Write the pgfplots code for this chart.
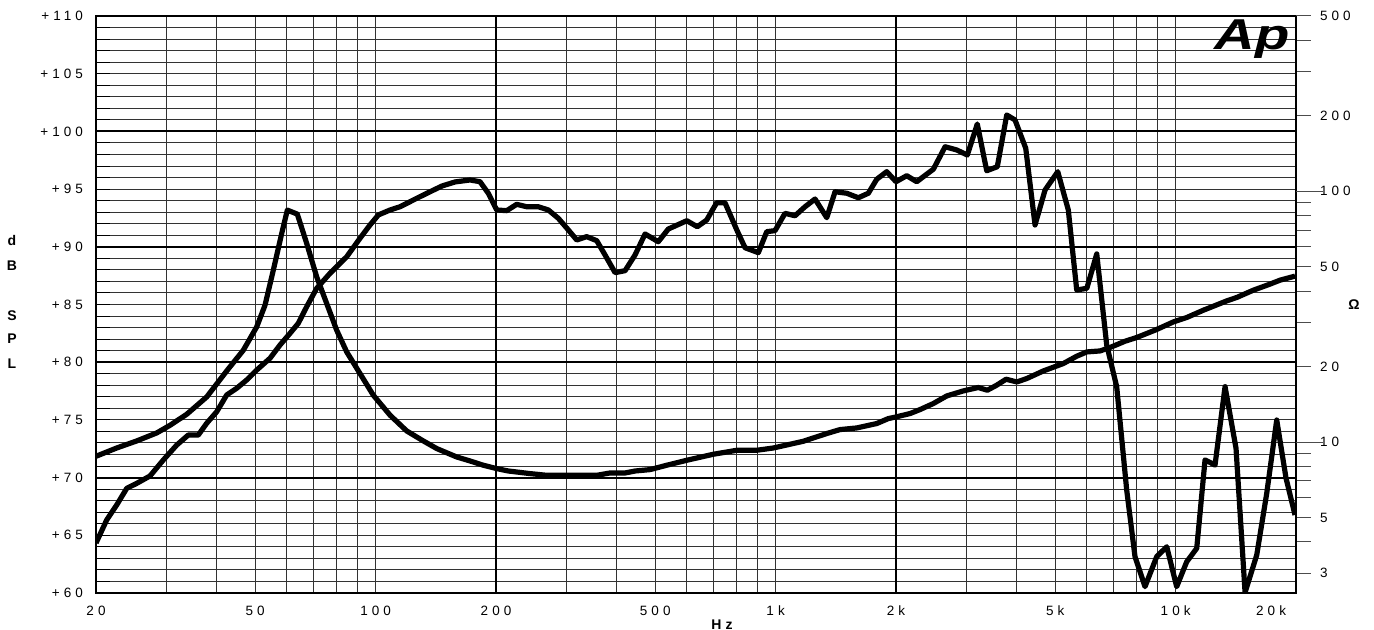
\documentclass[border=0pt]{standalone}
\usepackage{fontspec}
\setmainfont{Liberation Sans}[LetterSpace=30]
\usepackage{pgfplots}
\pgfplotsset{compat=1.18}

\pgfplotstableread{
f dB
20 64.33
21.27 66.33
22.53 67.63
23.87 69.07
25.28 69.50
27.29 70.14
29.47 71.53
31.83 72.82
34.02 73.69
36.04 73.69
37.83 74.71
40.07 75.71
42.44 77.16
44.95 77.74
47.62 78.46
50.44 79.32
54.45 80.34
57.68 81.49
61.10 82.50
64.08 83.37
67.26 84.81
71.24 86.40
76.92 87.70
84.68 89.14
91.42 90.74
96.83 91.89
101.6 92.76
108.7 93.19
115.1 93.47
126.7 94.20
136.8 94.77
146.6 95.27
158.0 95.62
172.2 95.79
182.4 95.64
191.3 94.64
200.8 93.19
212.7 93.13
225.3 93.68
238.7 93.47
255.2 93.47
270.3 93.19
286.3 92.47
303.3 91.46
318.3 90.59
337.1 90.88
357.1 90.53
374.7 89.29
396.9 87.76
420.4 87.93
445.2 89.29
471.6 91.11
509.0 90.44
539.2 91.54
599.8 92.26
637.2 91.74
672.6 92.32
712.4 93.82
747.3 93.82
799.8 91.46
838.6 89.92
905.4 89.49
950.2 91.31
996.6 91.40
1055.6 92.90
1118.2 92.69
1184.5 93.47
1254.7 94.14
1342.4 92.52
1408 94.77
1505.8 94.64
1610 94.25
1705.2 94.64
1789.6 95.85
1895.8 96.51
2000 95.64
2127 96.16
2253 95.64
2479 96.72
2653 98.67
2837 98.39
3015 97.95
3193 100.64
3371 96.59
3583 96.94
3783 101.42
3968 100.99
4220 98.54
4452 91.89
4716 94.92
5074 96.51
5392 93.19
5659 86.26
5998 86.40
6351 89.38
6726 81.49
7124 77.88
7546 68.93
7916 63.15
8385 60.55
8968 63.15
9502 64.01
10062 60.55
10660 62.71
11292 63.87
11845 71.53
12547 71.09
13291 77.88
14159 72.54
14916 60.05
15952 63.29
16898 68.64
17896 74.99
18883 69.94
19885 66.76
}\spltable

\pgfplotstableread{
f Z
20 8.775
22.53 9.468
25.28 10.10
28.37 10.87
30.62 11.66
33.71 12.90
37.83 15.13
42.44 19.21
46.70 23.24
50.44 28.79
52.91 35.13
55.50 48.46
58.25 67.9
60.16 84.1
63.72 81.07
67.26 61.94
71.24 45.58
75.47 35.69
79.94 27.92
84.68 22.87
91.42 18.75
98.69 15.37
108.7 12.79
119.6 11.07
131.6 10.10
142.2 9.416
159.5 8.718
172.2 8.405
185.9 8.079
200.8 7.835
214.7 7.665
243.2 7.484
267.8 7.368
357.1 7.368
385.5 7.526
420.4 7.526
445.2 7.665
485.3 7.763
534.2 8.079
599.8 8.459
698.6 8.937
799.8 9.270
897.2 9.270
987.1 9.468
1173 10.07
1342 10.81
1449 11.21
1595 11.38
1790 11.85
1913 12.40
2000 12.59
2168 12.99
2296 13.47
2479 14.24
2679 15.27
2946 15.99
3211 16.50
3383 16.09
3570 16.85
3768 17.80
4008 17.36
4244 17.91
4670 19.21
5240 20.56
5659 21.99
5998 22.87
6472 23.08
6855 23.82
7473 25.23
7994 26.11
8968 28.11
9868 30.12
10660 31.37
11730 33.55
13422 36.55
14218 37.71
15642 40.32
17220 42.63
18240 44.21
19885 45.87
}\imptable

\begin{document}
\begin{tikzpicture}[x=1pt,y=1pt]
\useasboundingbox (-48,-18.5) rectangle (639,296.5);
\begin{axis}[
  at={(0,0)}, anchor=south west,
  scale only axis, width=600pt, height=288.5pt,
  xmode=log, xmin=20, xmax=20000, ymin=60, ymax=110,
  /pgf/number format/assume math mode=true,
  tick label style={font=\fontsize{6.75}{8}\selectfont},
  xtick={20,50,100,200,500,1000,2000,5000,10000,20000},
  xticklabels={20,50,100,200,500,1k,2k,5k,10k,{\makebox[0pt][r]{20k}\hspace*{10pt}}},
  minor xtick={30,40,60,70,80,90,300,400,600,700,800,900,3000,4000,6000,7000,8000,9000},
  ytick={60,65,...,110},
  yticklabels={+60,+65,+70,+75,+80,+85,+90,+95,+100,+105,+110},
  minor y tick num=4,
  grid=both,
  major grid style={line width=0.5pt, black!80},
  minor grid style={line width=0.5pt, black!80},
  extra x ticks={200,2000}, extra x tick labels={},
  extra x tick style={major grid style={line width=1pt, black}},
  extra y ticks={70,80,90,100}, extra y tick labels={},
  extra y tick style={major grid style={line width=1pt, black}},
  xtick pos=bottom, ytick pos=left,
  xtick style={draw=none}, minor x tick style={draw=none},
  ytick style={black, line width=0.5pt},
  tick align=inside, major tick length=7pt, minor tick length=7pt,
  xticklabel style={yshift=-3pt},
  yticklabel style={xshift=-3pt},
  axis line style={line width=1pt},
]
\addplot[black, line width=2.6pt, line join=round] table[x=f, y=dB] {\spltable};
\end{axis}
\begin{axis}[
  at={(0,0)}, anchor=south west,
  scale only axis, width=600pt, height=288.5pt,
  xmode=log, xmin=20, xmax=20000,
  ymode=log, ymin=2.5, ymax=500,
  axis x line=none, axis y line*=right,
  y axis line style={-, line width=1pt},
  tick label style={font=\fontsize{6.75}{8}\selectfont},
  ytick={3,4,5,6,7,8,9,10,20,30,40,50,60,70,80,90,100,200,300,400,500},
  yticklabels={3,,5,,,,,10,20,,,50,,,,,100,200,,,500},
  minor ytick={},
  tick align=outside, major tick length=7.5pt,
  ytick style={line width=0.5pt, black!70},
  extra y ticks={10,100}, extra y tick labels={},
  extra y tick style={major tick length=13.5pt},
  yticklabel style={anchor=west, xshift=1pt},
]
\addplot[black, line width=2.6pt, line join=round] table[x=f, y=Z] {\imptable};
\end{axis}
\begin{scope}[font=\bfseries\fontsize{7}{8}\selectfont]
\node at (-42,176) {d};
\node at (-42,163.5) {B};
\node at (-42,138.5) {S};
\node at (-42,127) {P};
\node at (-42,114.5) {L};
\node at (629,144) {Ω};
\node[anchor=north, inner sep=0pt] at (313,-13) {Hz};
\end{scope}
\node[anchor=north east, inner sep=0pt] at (597,287) {\scalebox{1.3}[1]{\fontsize{21.6}{22}\selectfont\bfseries\itshape\addfontfeature{LetterSpace=0}Ap}};
\end{tikzpicture}
\end{document}
